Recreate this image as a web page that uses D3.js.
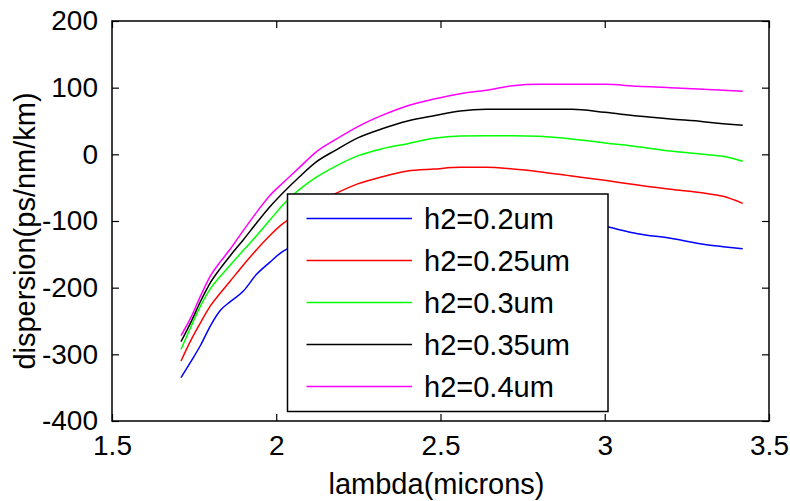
<!DOCTYPE html>
<html>
<head>
<meta charset="utf-8">
<script src="https://cdn.jsdelivr.net/npm/d3@7"></script>
<style>
  html, body { margin: 0; padding: 0; background: #fff; }
  svg { display: block; }
  text { font-family: "Liberation Sans", Arial, sans-serif; fill: #000; }
</style>
</head>
<body>
<svg id="chart" width="790" height="501"></svg>
<script>
// Wavelength samples (microns)
const lambda = [1.71, 1.74, 1.77, 1.80, 1.83, 1.86, 1.90, 1.94, 1.98, 2.02, 2.07, 2.12, 2.18,
                2.25, 2.32, 2.40, 2.48, 2.56, 2.64, 2.72, 2.80, 2.90, 3.00, 3.10, 3.20, 3.30, 3.36, 3.42];

// Dispersion (ps/nm/km) for each h2 thickness
const d_h020 = [-335, -311, -286, -257, -234, -221, -205, -180, -162, -145.5, -135, -124, -113,
                -104, -97, -91, -87, -85, -85, -87, -91, -99, -108, -119, -126, -135, -138.5, -141.5];
const d_h025 = [-310, -279, -252, -227, -208, -190, -166, -143, -122, -104, -88, -74, -59,
                -44, -34, -25, -22, -19.5, -19.5, -22, -26, -32.5, -39, -46, -52.5, -58, -63, -73.5];
const d_h030 = [-292.5, -259, -227, -201, -183, -166, -144, -122, -99, -76, -53, -35, -18,
                -2, 8, 16, 24, 27.5, 28, 28, 27, 23, 17, 11.5, 5, 0, -3, -10.5];
const d_h035 = [-281, -252, -220, -192, -171, -152, -128, -103, -79, -58, -34, -12, 6,
                25, 38, 50, 58, 65, 67.5, 67.5, 67.5, 67.5, 63, 57.5, 53, 49, 46, 43.5];
const d_h040 = [-272, -245, -212, -182, -161, -142, -114, -87, -62, -43, -20, 3, 22,
                42, 58, 73, 83, 91, 96, 103, 105, 105, 105, 102, 100, 97.5, 96, 94.5];

const seriesLabels = ["h2=0.2um", "h2=0.25um", "h2=0.3um", "h2=0.35um", "h2=0.4um"];
const seriesColors = ["#0000ff", "#ff0000", "#00ff00", "#000000", "#ff00ff"];
const seriesValues = [d_h020, d_h025, d_h030, d_h035, d_h040];

const xTicks = [1.5, 2, 2.5, 3, 3.5];
const yTicks = [-400, -300, -200, -100, 0, 100, 200];
const xLabel = "lambda(microns)";
const yLabel = "dispersion(ps/nm/km)";

const svg = d3.select("#chart");
const plot = { left: 112, right: 769, top: 21, bottom: 421 };

const x = d3.scaleLinear().domain([1.5, 3.5]).range([plot.left, plot.right]);
const y = d3.scaleLinear().domain([-400, 200]).range([plot.bottom, plot.top]);

const tickLen = 7;
const tickFont = "28px";
// plain ASCII hyphen for negative numbers
const numFmt = v => String(v);

// Axes with inward ticks on all four sides
const axisBottom = d3.axisBottom(x).tickValues(xTicks).tickSizeInner(-tickLen).tickSizeOuter(0)
  .tickPadding(14).tickFormat(numFmt);
const axisTop = d3.axisTop(x).tickValues(xTicks).tickSizeInner(-tickLen).tickSizeOuter(0).tickFormat("");
const axisLeft = d3.axisLeft(y).tickValues(yTicks).tickSizeInner(-tickLen).tickSizeOuter(0)
  .tickPadding(14).tickFormat(numFmt);
const axisRight = d3.axisRight(y).tickValues(yTicks).tickSizeInner(-tickLen).tickSizeOuter(0).tickFormat("");

function styleAxis(g) {
  g.select(".domain").remove();
  g.selectAll(".tick line").attr("stroke", "#000").attr("stroke-width", 1.2);
  g.selectAll(".tick text").style("font-size", tickFont).attr("fill", "#000");
}

svg.append("g").attr("transform", `translate(0,${plot.bottom})`).call(axisBottom).call(styleAxis)
  .selectAll(".tick text").attr("dy", "0.71em");
svg.append("g").attr("transform", `translate(0,${plot.top})`).call(axisTop).call(styleAxis);
svg.append("g").attr("transform", `translate(${plot.left},0)`).call(axisLeft).call(styleAxis);
svg.append("g").attr("transform", `translate(${plot.right},0)`).call(axisRight).call(styleAxis);

// Data curves
const line = d3.line()
  .x((d, i) => x(lambda[i]))
  .y(d => y(d))
  .curve(d3.curveMonotoneX);

svg.append("g").selectAll("path")
  .data(seriesValues)
  .join("path")
  .attr("d", d => line(d))
  .attr("fill", "none")
  .attr("stroke", (d, i) => seriesColors[i])
  .attr("stroke-width", 1.5);

// Plot frame
svg.append("rect")
  .attr("x", plot.left).attr("y", plot.top)
  .attr("width", plot.right - plot.left).attr("height", plot.bottom - plot.top)
  .attr("fill", "none").attr("stroke", "#000").attr("stroke-width", 1.5);

// Axis titles
svg.append("text")
  .attr("x", (plot.left + plot.right) / 2 - 4).attr("y", 494)
  .attr("text-anchor", "middle").style("font-size", "29px")
  .text(xLabel);
svg.append("text")
  .attr("transform", `translate(35,${(plot.top + plot.bottom) / 2 + 10}) rotate(-90)`)
  .attr("text-anchor", "middle").style("font-size", "29px")
  .text(yLabel);

// Legend
const legend = { x0: 287.5, y0: 194, x1: 608, y1: 411.5, rowStart: 218.5, rowStep: 42 };
const lg = svg.append("g");
lg.append("rect")
  .attr("x", legend.x0).attr("y", legend.y0)
  .attr("width", legend.x1 - legend.x0).attr("height", legend.y1 - legend.y0)
  .attr("fill", "#fff").attr("stroke", "#000").attr("stroke-width", 1.5);
const rows = lg.selectAll("g.row").data(seriesLabels).join("g")
  .attr("class", "row")
  .attr("transform", (d, i) => `translate(0,${legend.rowStart + i * legend.rowStep})`);
rows.append("line")
  .attr("x1", 306.5).attr("x2", 412).attr("y1", 0).attr("y2", 0)
  .attr("stroke", (d, i) => seriesColors[i]).attr("stroke-width", 1.5);
rows.append("text")
  .attr("x", 424).attr("y", 10.5)
  .style("font-size", "29px")
  .text(d => d);
</script>
</body>
</html>
